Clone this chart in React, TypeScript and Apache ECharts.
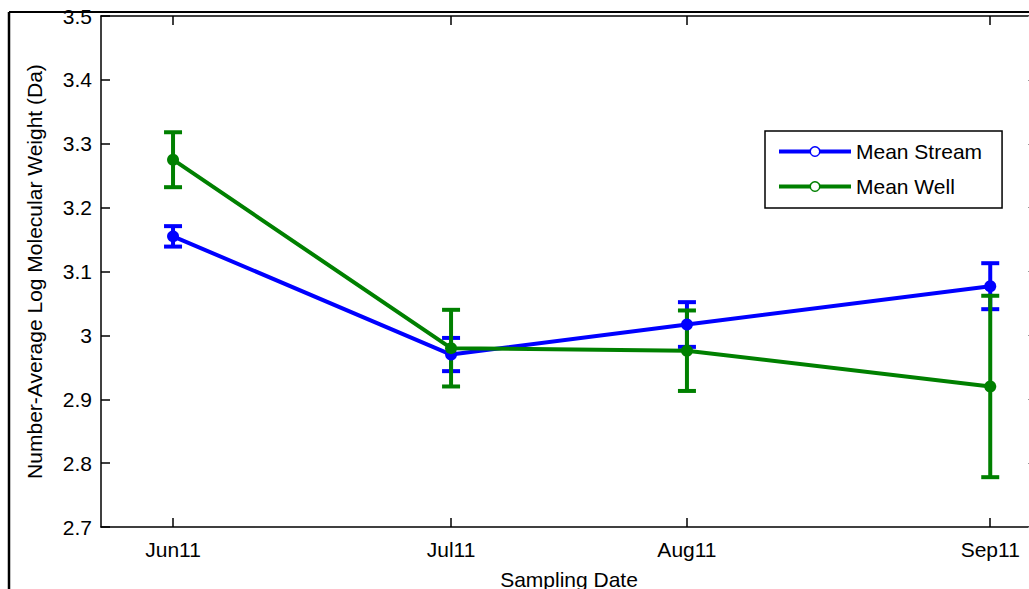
import React, { useEffect, useRef } from "react";
import * as echarts from "echarts";

// Sampling dates as day offsets from the first sampling (Jun 2011)
const sampleDays = [0, 33, 61, 97];
const tickLabels = ["Jun11", "Jul11", "Aug11", "Sep11"];
const xMin = -8.55;
const xMax = 102.55;

const yTicks = [2.7, 2.8, 2.9, 3.0, 3.1, 3.2, 3.3, 3.4, 3.5];

const streamMean = [3.155, 2.970, 3.017, 3.077];
const streamErr = [0.016, 0.026, 0.035, 0.036];
const wellMean = [3.275, 2.980, 2.976, 2.920];
const wellErr = [0.043, 0.060, 0.063, 0.142];

const seriesNames = ["Mean Stream", "Mean Well"];
const BLUE = "#0000ff";
const GREEN = "#008000";
const FONT = "Liberation Sans, Arial, sans-serif";

function errorRenderer(color: string) {
  return (params: any, api: any) => {
    const x = api.value(0);
    const lo = api.value(1);
    const hi = api.value(2);
    const top = api.coord([x, hi]);
    const bot = api.coord([x, lo]);
    const hw = 9;
    const style = { stroke: color, lineWidth: 4 };
    return {
      type: "group",
      children: [
        { type: "line", shape: { x1: top[0], y1: top[1], x2: bot[0], y2: bot[1] }, style },
        { type: "line", shape: { x1: top[0] - hw, y1: top[1], x2: top[0] + hw, y2: top[1] }, style },
        { type: "line", shape: { x1: bot[0] - hw, y1: bot[1], x2: bot[0] + hw, y2: bot[1] }, style },
      ],
    };
  };
}

export default function App() {
  const ref = useRef<HTMLDivElement>(null);
  useEffect(() => {
    if (!ref.current) return;
    const chart = echarts.init(ref.current, null, { renderer: "svg" });
    const streamLine = sampleDays.map((d, i) => [d, streamMean[i]]);
    const wellLine = sampleDays.map((d, i) => [d, wellMean[i]]);
    const streamBars = sampleDays.map((d, i) => [d, streamMean[i] - streamErr[i], streamMean[i] + streamErr[i]]);
    const wellBars = sampleDays.map((d, i) => [d, wellMean[i] - wellErr[i], wellMean[i] + wellErr[i]]);
    const labelFor = (v: number) => {
      const idx = sampleDays.findIndex((d) => Math.abs(d - v) < 1e-6);
      return idx >= 0 ? tickLabels[idx] : "";
    };
    const axisLineStyle = { color: "#000", width: 1.5 };
    const tickStyle = { color: "#000", width: 1.5 };
    chart.setOption({
      animation: false,
      backgroundColor: "#fff",
      textStyle: { fontFamily: FONT },
      grid: { left: 101, top: 16, width: 936, height: 511, outerBoundsMode: "none" },
      xAxis: [
        {
          type: "value",
          min: xMin,
          max: xMax,
          position: "bottom",
          axisLine: { show: true, onZero: false, lineStyle: axisLineStyle },
          axisTick: { show: true, inside: true, length: 9, customValues: sampleDays, lineStyle: tickStyle },
          axisLabel: {
            show: true,
            customValues: sampleDays,
            formatter: (v: number) => labelFor(v),
            color: "#000",
            fontSize: 21,
            fontFamily: FONT,
            margin: 12,
          },
          splitLine: { show: false },
          name: "Sampling Date",
          nameLocation: "middle",
          nameGap: 42,
          nameTextStyle: { color: "#000", fontSize: 21, fontFamily: FONT },
        },
        {
          type: "value",
          min: xMin,
          max: xMax,
          position: "top",
          axisLine: { show: true, onZero: false, lineStyle: axisLineStyle },
          axisTick: { show: true, inside: true, length: 9, customValues: sampleDays, lineStyle: tickStyle },
          axisLabel: { show: false },
          splitLine: { show: false },
        },
      ],
      yAxis: [
        {
          type: "value",
          min: 2.7,
          max: 3.5,
          interval: 0.1,
          position: "left",
          axisLine: { show: true, onZero: false, lineStyle: axisLineStyle },
          axisTick: { show: true, inside: true, length: 9, lineStyle: tickStyle },
          axisLabel: {
            customValues: yTicks,
            formatter: (v: number) => String(parseFloat(v.toFixed(1))),
            color: "#000",
            fontSize: 21,
            fontFamily: FONT,
            margin: 9,
          },
          splitLine: { show: false },
          name: "Number-Average Log Molecular Weight (Da)",
          nameLocation: "middle",
          nameGap: 56,
          nameTextStyle: { color: "#000", fontSize: 21, fontFamily: FONT },
        },
        {
          type: "value",
          min: 2.7,
          max: 3.5,
          interval: 0.1,
          position: "right",
          axisLine: { show: true, onZero: false, lineStyle: axisLineStyle },
          axisTick: { show: true, inside: true, length: 9, lineStyle: { color: "#999", width: 1 } },
          axisLabel: { show: false },
          splitLine: { show: false },
        },
      ],
      legend: {
        data: [
          { name: seriesNames[0], itemStyle: { color: "#fff", borderColor: BLUE, borderWidth: 1.5 } },
          { name: seriesNames[1], itemStyle: { color: "#fff", borderColor: GREEN, borderWidth: 1.5 } },
        ],
        orient: "vertical",
        left: 765,
        top: 131,
        backgroundColor: "#fff",
        borderColor: "#000",
        borderWidth: 1.5,
        borderRadius: 0,
        padding: [10, 20, 11, 12],
        itemWidth: 72,
        itemHeight: 12,
        itemGap: 14,
        lineStyle: { width: 4 },
        textStyle: { color: "#000", fontSize: 21, fontFamily: FONT },
      },
      series: [
        {
          name: "Stream error",
          type: "custom",
          renderItem: errorRenderer(BLUE),
          data: streamBars,
          encode: { x: 0, y: [1, 2] },
          silent: true,
        },
        {
          name: seriesNames[0],
          type: "line",
          data: streamLine,
          color: BLUE,
          symbol: "circle",
          symbolSize: 12,
          lineStyle: { color: BLUE, width: 4 },
          itemStyle: { color: BLUE },
        },
        {
          name: "Well error",
          type: "custom",
          renderItem: errorRenderer(GREEN),
          data: wellBars,
          encode: { x: 0, y: [1, 2] },
          silent: true,
        },
        {
          name: seriesNames[1],
          type: "line",
          data: wellLine,
          color: GREEN,
          symbol: "circle",
          symbolSize: 12,
          lineStyle: { color: GREEN, width: 4 },
          itemStyle: { color: GREEN },
        },
      ],
      graphic: [
        { type: "line", shape: { x1: 9, y1: 12, x2: 1029, y2: 12 }, style: { stroke: "#000", lineWidth: 2 }, z: 100 },
        { type: "line", shape: { x1: 9, y1: 12, x2: 9, y2: 589 }, style: { stroke: "#000", lineWidth: 2.5 }, z: 100 },
      ],
    });
    return () => chart.dispose();
  }, []);
  return (
    <div
      ref={ref}
      style={{ position: "fixed", left: 0, top: 0, width: 1029, height: 589, background: "#fff" }}
    />
  );
}
